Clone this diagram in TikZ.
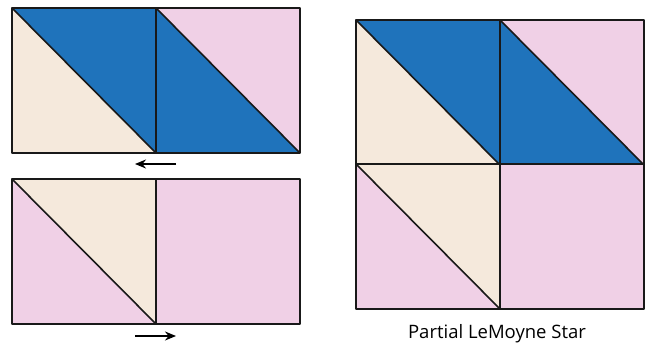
\documentclass[tikz,border=0pt]{standalone}
\usepackage{fontspec}
\setmainfont{Open Sans}
\usetikzlibrary{arrows.meta}
\definecolor{qblue}{RGB}{31,115,187}
\definecolor{qpink}{RGB}{240,208,230}
\definecolor{qcream}{RGB}{245,233,220}
\definecolor{qline}{RGB}{25,25,25}
\begin{document}
\begin{tikzpicture}[x=1pt,y=-1pt,
  edge/.style={draw=qline,line width=1.6pt,line join=round},
  mover/.style={draw=black,line width=2pt,-{Stealth[length=11pt,width=9pt]}}]
\useasboundingbox (0,0) rectangle (654,343);
% square with diagonal: #1,#2 top-left; lower-left colour #3; upper-right colour #4
\newcommand{\hst}[4]{%
  \fill[#3] (#1,#2) -- (#1+144,#2+145) -- (#1,#2+145) -- cycle;
  \fill[#4] (#1,#2) -- (#1+144,#2) -- (#1+144,#2+145) -- cycle;
  \draw[edge] (#1,#2) rectangle (#1+144,#2+145);
  \draw[edge] (#1,#2) -- (#1+144,#2+145);}
\newcommand{\plain}[3]{%
  \fill[#3] (#1,#2) rectangle (#1+144,#2+145);
  \draw[edge] (#1,#2) rectangle (#1+144,#2+145);}
% top left unit
\hst{12}{8}{qcream}{qblue}
\hst{156}{8}{qblue}{qpink}
% bottom left unit
\hst{12}{179}{qpink}{qcream}
\plain{156}{179}{qpink}
% right block
\hst{356}{20}{qcream}{qblue}
\hst{500}{20}{qblue}{qpink}
\hst{356}{164}{qpink}{qcream}
\plain{500}{164}{qpink}
% arrows
\coordinate (a1s) at (176,164);
\coordinate (a1e) at (135,164);
\coordinate (a2s) at (135,336);
\coordinate (a2e) at (176,336);
\draw[mover] (a1s) -- (a1e);
\draw[mover] (a2s) -- (a2e);
\node[font=\fontsize{18.5}{22}\selectfont,anchor=base,inner sep=0pt] (cap) at (497,338) {Partial LeMoyne Star};
\end{tikzpicture}
\end{document}
